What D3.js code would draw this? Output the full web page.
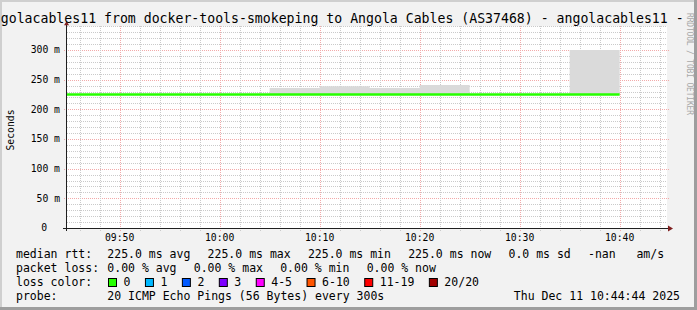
<!DOCTYPE html>
<html>
<head>
<meta charset="utf-8">
<script src="https://cdn.jsdelivr.net/npm/d3@7"></script>
<style>
  body { margin: 0; background: #f2f2f2; }
  svg text { font-family: "DejaVu Sans Mono", monospace; white-space: pre; }
</style>
</head>
<body>
<div id="chart"></div>
<script>
// 5 minute steps (start of each step)
const stepStarts = ["09:40", "09:45", "09:50", "09:55", "10:00", "10:05", "10:10", "10:15", "10:20", "10:25", "10:30", "10:35"];
const medianRtt = [225, 225, 225, 225, 225, 225, 225, 225, 225, 225, 225, 225];
const minRtt    = [225, 225, 225, 225, 225, 225, 225, 225, 225, 225, 225, 225];
const maxRtt    = [225, 225, 225, 225, 225, 236, 239, 236, 241, 225, 225, 300];

const yTicks = [0, 50, 100, 150, 200, 250, 300];
const yTickLabels = ["0", "50 m", "100 m", "150 m", "200 m", "250 m", "300 m"];

const titleText = "golacables11 from docker-tools-smokeping to Angola Cables (AS37468) - angolacables11 -";
const rttStats = ["225.0 ms avg", "225.0 ms max", "225.0 ms min", "225.0 ms now", "0.0 ms sd", "-nan   am/s"];
const lossStats = ["0.00 % avg", "0.00 % max", "0.00 % min", "0.00 % now"];
const lossBins = ["0", "1", "2", "3", "4-5", "6-10", "11-19", "20/20"];
const lossColors = ["#26ff00", "#00b8ff", "#0059ff", "#7e00ff", "#ff00ff", "#ff5500", "#ff0000", "#a10000"];
const probeText = "20 ICMP Echo Pings (56 Bytes) every 300s";
const stampText = "Thu Dec 11 10:44:44 2025";

const W = 697, H = 310;
const day = t => { let [h, m] = t.split(":").map(Number); return new Date(2025, 11, 11, h, m, 0); };
const tEnd = new Date(2025, 11, 11, 10, 44, 44);
const tStart = new Date(tEnd - 3600 * 1000);

const x = d3.scaleTime().domain([tStart, tEnd]).range([67, 667]);
const y = d3.scaleLinear().domain([0, 340]).range([228, 228 - 340 * 178 / 300]);

let rows = stepStarts.map((s, i) => ({ t: day(s), med: medianRtt[i], lo: minRtt[i], hi: maxRtt[i] }));
let last = rows[rows.length - 1];
rows.push({ ...last, t: new Date(+last.t + 300 * 1000) });

const svg = d3.select("#chart").append("svg").attr("width", W).attr("height", H);

// frame
svg.append("rect").attr("width", W).attr("height", H).attr("fill", "#f2f2f2");
svg.append("path").attr("d", `M0,0H${W}V2H2V${H}H0Z`).attr("fill", "#cfcfcf");
svg.append("path").attr("d", `M${W},0V${H}H0V${H - 3}H${W - 3}V0Z`).attr("fill", "#9e9e9e");

// canvas
svg.append("rect")
  .attr("x", x.range()[0]).attr("y", y.range()[1])
  .attr("width", x.range()[1] - x.range()[0]).attr("height", y.range()[0] - y.range()[1])
  .attr("fill", "#fff");

svg.append("clipPath").attr("id", "plot")
  .append("rect")
  .attr("x", x.range()[0]).attr("y", y.range()[1])
  .attr("width", x.range()[1] - x.range()[0]).attr("height", y.range()[0] - y.range()[1]);

let grid = svg.append("g").attr("shape-rendering", "crispEdges");
const px = v => Math.round(v) + 0.5;
const minorCol = "#cacaca", majorCol = "#f2aaaa";

// horizontal grid
d3.range(10, 341, 10).forEach(v => {
  let major = v % 50 === 0;
  grid.append("line")
    .attr("x1", x.range()[0] - (major ? 3 : 0)).attr("x2", x.range()[1] + (major ? 2 : 0))
    .attr("y1", px(y(v))).attr("y2", px(y(v)))
    .attr("stroke", major ? majorCol : minorCol)
    .attr("stroke-dasharray", "1,1");
});

// vertical grid
d3.timeMinute.every(2).range(tStart, tEnd).forEach(t => {
  let major = t.getMinutes() % 10 === 0;
  grid.append("line")
    .attr("x1", px(x(t))).attr("x2", px(x(t)))
    .attr("y1", y.range()[1]).attr("y2", y(0) + 3)
    .attr("stroke", major ? majorCol : minorCol)
    .attr("stroke-dasharray", "1,1");
});

// smoke
svg.append("path").datum(rows)
  .attr("clip-path", "url(#plot)")
  .attr("fill", "#dadada")
  .attr("d", d3.area().curve(d3.curveStepAfter)
    .x(d => x(d.t)).y0(d => y(d.lo)).y1(d => y(d.hi)));

// median line
svg.append("path").datum(rows)
  .attr("clip-path", "url(#plot)")
  .attr("fill", "none")
  .attr("stroke", lossColors[0])
  .attr("stroke-width", 2.5)
  .attr("d", d3.line().curve(d3.curveStepAfter).x(d => x(d.t)).y(d => y(d.med)));

// axes
let axisCol = "#1f1f1f", arrowCol = "#7f1f1f";
svg.append("line").attr("x1", x.range()[0] - 4).attr("x2", x.range()[1] + 2)
  .attr("y1", y(0) + 0.5).attr("y2", y(0) + 0.5).attr("stroke", axisCol);
svg.append("line").attr("x1", x.range()[0] - 0.5).attr("x2", x.range()[0] - 0.5)
  .attr("y1", y(0) + 3).attr("y2", y.range()[1] - 2).attr("stroke", axisCol);
svg.append("path").attr("fill", arrowCol)
  .attr("d", `M${x.range()[1] + 1},${y(0) - 2.5}L${x.range()[1] + 6},${y(0) + 0.5}L${x.range()[1] + 1},${y(0) + 3.5}Z`);
svg.append("path").attr("fill", arrowCol)
  .attr("d", `M${x.range()[0] - 3},${y.range()[1] - 1}L${x.range()[0] - 0.5},${y.range()[1] - 5}L${x.range()[0] + 2},${y.range()[1] - 1}Z`);

// tick labels
svg.append("g").selectAll("text").data(yTicks).join("text")
  .attr("x", (d, i) => d === 0 ? 47 : 60)
  .attr("y", d => y(d))
  .attr("dy", "0.35em")
  .attr("text-anchor", "end")
  .attr("font-size", "9.75px")
  .text((d, i) => yTickLabels[i]);

const fmt = d3.timeFormat("%H:%M");
svg.append("g").selectAll("text").data(d3.timeMinute.every(10).range(tStart, tEnd)).join("text")
  .attr("x", d => x(d))
  .attr("y", 238)
  .attr("dy", "0.35em")
  .attr("text-anchor", "middle")
  .attr("font-size", "9.75px")
  .text(d => fmt(d));

svg.append("text")
  .attr("transform", "translate(11,130) rotate(-90)")
  .attr("text-anchor", "middle").attr("dy", "0.35em")
  .attr("font-size", "9.75px")
  .text("Seconds");

// title
svg.append("text").attr("x", 0.8).attr("y", 18).attr("dy", "0.35em")
  .attr("font-size", "13.2px").text(titleText);

// watermark
svg.append("text")
  .attr("transform", "translate(689.5,13) rotate(90)")
  .attr("dy", "0.35em")
  .attr("font-size", "8px").attr("fill", "#a8a8a8")
  .attr("textLength", 102).attr("lengthAdjust", "spacing")
  .text("RRDTOOL / TOBI OETIKER");

// legend
let leg = svg.append("g").attr("font-size", "11.5px");
const rowY = [254, 268, 282, 296];

// items follow each other with a fixed gap after the text
function statRow(items, yy) {
  let cx = 107.3;
  items.forEach(s => {
    let t = leg.append("text").attr("x", cx).attr("y", yy).attr("dy", "0.35em").text(s);
    cx += t.node().getComputedTextLength() + 17.2;
  });
}

leg.append("text").attr("x", 16).attr("y", rowY[0]).attr("dy", "0.35em").text("median rtt:");
statRow(rttStats, rowY[0]);

leg.append("text").attr("x", 16).attr("y", rowY[1]).attr("dy", "0.35em").text("packet loss:");
statRow(lossStats, rowY[1]);

leg.append("text").attr("x", 16).attr("y", rowY[2]).attr("dy", "0.35em").text("loss color:");
let sx = 108.5;
lossBins.forEach((b, i) => {
  leg.append("rect").attr("x", sx).attr("y", 278.5).attr("width", 8).attr("height", 8)
    .attr("fill", lossColors[i]).attr("stroke", "#000").attr("stroke-width", 1);
  let t = leg.append("text").attr("x", sx + 15).attr("y", rowY[2]).attr("dy", "0.35em").text(b);
  sx = sx + 15 + t.node().getComputedTextLength() + 15;
});

leg.append("text").attr("x", 16).attr("y", rowY[3]).attr("dy", "0.35em").text("probe:");
leg.append("text").attr("x", 107.3).attr("y", rowY[3]).attr("dy", "0.35em").text(probeText);
leg.append("text").attr("x", 680).attr("y", rowY[3]).attr("dy", "0.35em")
  .attr("text-anchor", "end").text(stampText);
</script>
</body>
</html>
